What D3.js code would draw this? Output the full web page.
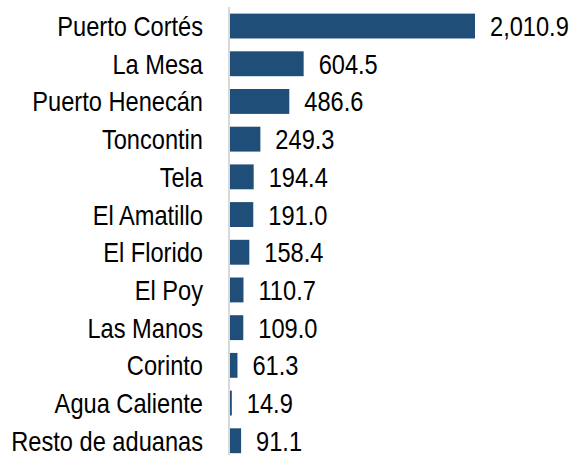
<!DOCTYPE html>
<html>
<head>
<meta charset="utf-8">
<script src="https://cdn.jsdelivr.net/npm/d3@7"></script>
<style>
  body { margin: 0; background: #fff; }
  text { font-family: "Liberation Sans", Arial, sans-serif; fill: #000; }
</style>
</head>
<body>
<div id="chart"></div>
<script>
var aduanas = ["Puerto Cortés", "La Mesa", "Puerto Henecán", "Toncontin", "Tela",
               "El Amatillo", "El Florido", "El Poy", "Las Manos", "Corinto",
               "Agua Caliente", "Resto de aduanas"];
var valores = [2010.9, 604.5, 486.6, 249.3, 194.4, 191.0, 158.4, 110.7, 109.0, 61.3, 14.9, 91.1];

var width = 571,
    height = 455,
    axisX = 230,
    fontSize = 27,
    squeeze = 0.875;

var data = aduanas.map(function(d, i) { return {name: d, value: valores[i]}; });

var svg = d3.select("#chart")
            .append("svg")
            .attr("width", width)
            .attr("height", height);

var x = d3.scaleLinear().domain([0, 2010.9]).range([axisX, 475]);
var y = d3.scaleBand().domain(aduanas).range([7.2, 459.6])
          .paddingInner(0.34).paddingOuter(0.17);

var fmt = d3.format(",.1f");

svg.selectAll("rect.bar")
   .data(data)
   .enter()
   .append("rect")
   .attr("class", "bar")
   .attr("x", x(0))
   .attr("y", function(d) { return y(d.name); })
   .attr("width", function(d) { return x(d.value) - x(0); })
   .attr("height", y.bandwidth())
   .attr("fill", "#1f4e79");

// eje vertical
svg.append("line")
   .attr("x1", axisX - 1).attr("x2", axisX - 1)
   .attr("y1", 7).attr("y2", height)
   .attr("stroke", "#d9d9d9")
   .attr("stroke-width", 2);

// etiquetas de categorias
svg.selectAll("g.cat")
   .data(data)
   .enter()
   .append("g")
   .attr("class", "cat")
   .attr("transform", function(d) {
     return "translate(203," + (y(d.name) + y.bandwidth() / 2 + 10) + ") scale(" + squeeze + ",1)";
   })
   .append("text")
   .attr("text-anchor", "end")
   .style("font-size", fontSize + "px")
   .text(function(d) { return d.name; });

// valores
svg.selectAll("g.val")
   .data(data)
   .enter()
   .append("g")
   .attr("class", "val")
   .attr("transform", function(d) {
     return "translate(" + (x(d.value) + 15) + "," + (y(d.name) + y.bandwidth() / 2 + 10) + ") scale(" + squeeze + ",1)";
   })
   .append("text")
   .style("font-size", fontSize + "px")
   .text(function(d) { return fmt(d.value); });
</script>
</body>
</html>
